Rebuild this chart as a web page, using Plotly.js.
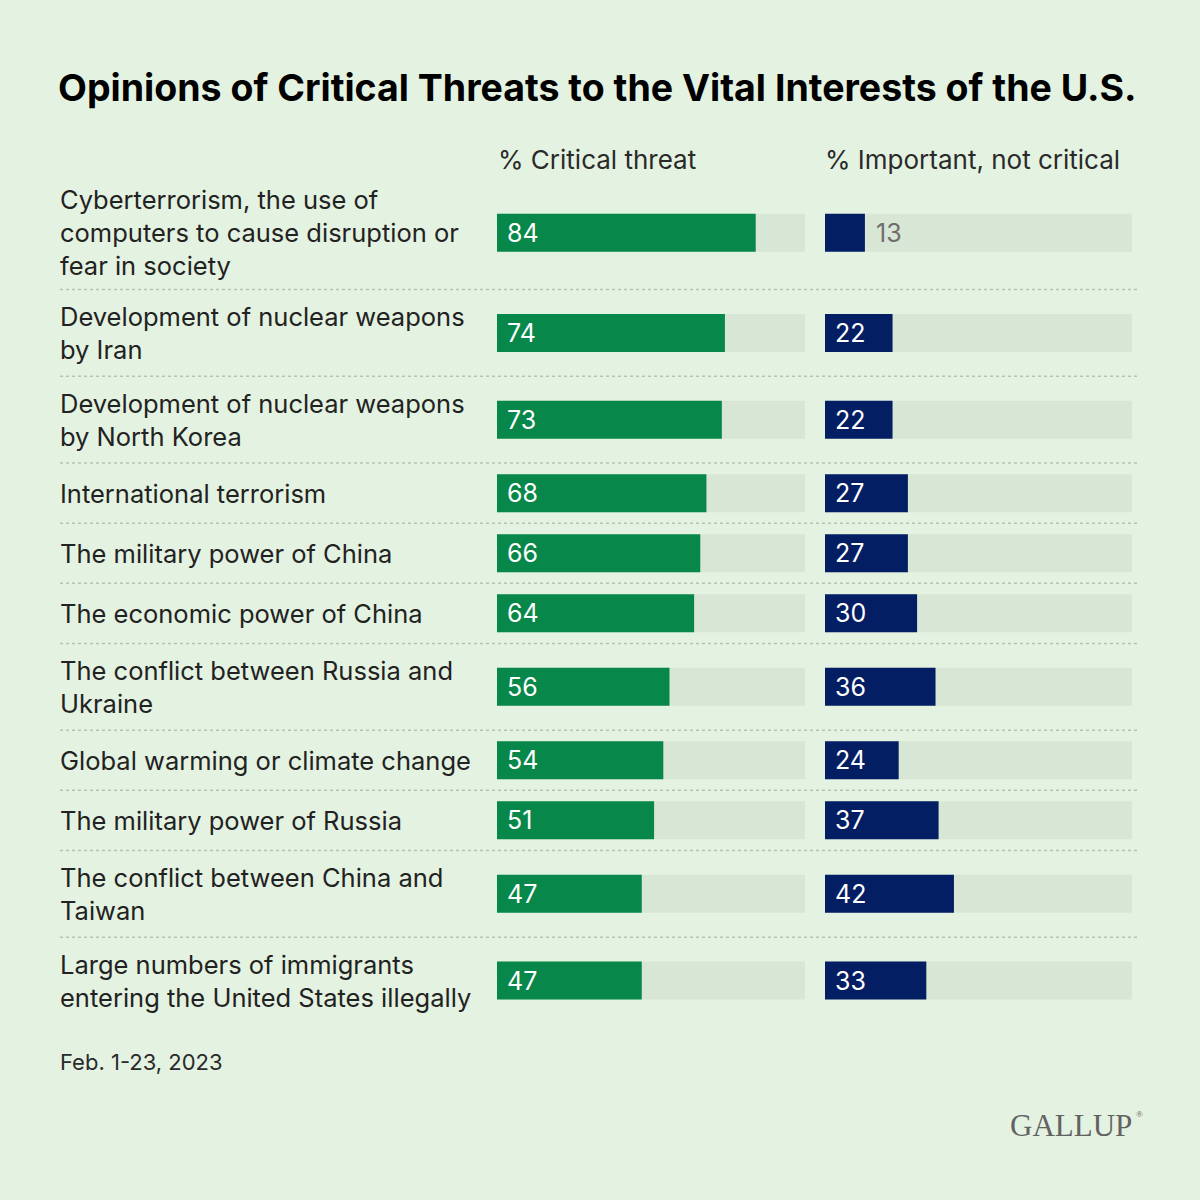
<!DOCTYPE html>
<html>
<head>
<meta charset="utf-8">
<script src="https://cdn.plot.ly/plotly-3.0.1.min.js"></script>
<style>html,body{margin:0;padding:0;background:#e4f2e1;}</style>
</head>
<body>
<div id="chart" style="width:1200px;height:1200px;"></div>
<script>
// ---- DATA ----
const categories = [
  "Cyberterrorism, the use of<br>computers to cause disruption or<br>fear in society",
  "Development of nuclear weapons<br>by Iran",
  "Development of nuclear weapons<br>by North Korea",
  "International terrorism",
  "The military power of China",
  "The economic power of China",
  "The conflict between Russia and<br>Ukraine",
  "Global warming or climate change",
  "The military power of Russia",
  "The conflict between China and<br>Taiwan",
  "Large numbers of immigrants<br>entering the United States illegally"
];
const criticalThreat = [84, 74, 73, 68, 66, 64, 56, 54, 51, 47, 47];
const importantNotCritical = [13, 22, 22, 27, 27, 30, 36, 24, 37, 42, 33];
const seriesNames = ["% Critical threat", "% Important, not critical"];
const titleText = "Opinions of Critical Threats to the Vital Interests of the U.S.";
const dateNote = "Feb. 1-23, 2023";
const sourceText = "GALLUP";

// ---- LAYOUT HELPERS ----
const BG = "#e4f2e1", TRACK = "#d8e6d5", GREEN = "#07874a", NAVY = "#031e63";
const FONT = "Inter, 'Open Sans', sans-serif";
const W = 1200, H = 1200;
const px = v => v / W;            // x pixel -> paper
const py = v => 1 - v / H;        // y pixel -> paper
const ROW_PAD = 1.25;             // extra row height in line units

const lines = categories.map(c => c.split("<br>").length);
const rowH = lines.map(n => n + ROW_PAD);
const bounds = [0];
rowH.forEach(h => bounds.push(bounds[bounds.length - 1] + h));
const centers = rowH.map((h, i) => bounds[i] + h / 2);
const total = bounds[bounds.length - 1];
const TOP = 176, BOTTOM = 1024;
const unitPx = (BOTTOM - TOP) / total;
const barW = 38 / unitPx;
const full = categories.map(() => 100);

const traces = [
  {type: "bar", orientation: "h", x: full, y: centers, xaxis: "x", yaxis: "y",
   width: barW, marker: {color: TRACK}, hoverinfo: "skip"},
  {type: "bar", orientation: "h", x: criticalThreat, y: centers, xaxis: "x", yaxis: "y",
   width: barW, marker: {color: GREEN}, name: seriesNames[0]},
  {type: "bar", orientation: "h", x: full, y: centers, xaxis: "x2", yaxis: "y",
   width: barW, marker: {color: TRACK}, hoverinfo: "skip"},
  {type: "bar", orientation: "h", x: importantNotCritical, y: centers, xaxis: "x2", yaxis: "y",
   width: barW, marker: {color: NAVY}, name: seriesNames[1]}
];

const annotations = [];
// row labels
categories.forEach((c, i) => {
  annotations.push({text: c, xref: "paper", yref: "y", x: px(58), y: centers[i],
    xanchor: "left", yanchor: "middle", align: "left", showarrow: false,
    font: {family: FONT, size: 25.5, color: "#222222"}});
});
// value labels
function addValues(vals, xref) {
  vals.forEach((v, i) => {
    const inside = v >= 15;
    annotations.push({text: String(v), xref: xref, yref: "y",
      x: inside ? 0 : v, y: centers[i], xshift: inside ? 8 : 9,
      xanchor: "left", yanchor: "middle", showarrow: false,
      font: {family: FONT, size: 25, color: inside ? "#ffffff" : "#6e6e6e"}});
  });
}
addValues(criticalThreat, "x");
addValues(importantNotCritical, "x2");
// column headers
annotations.push({text: seriesNames[0], xref: "paper", yref: "paper", x: px(496), y: py(160),
  xanchor: "left", yanchor: "middle", showarrow: false, font: {family: FONT, size: 26, color: "#2a2a2a"}});
annotations.push({text: seriesNames[1], xref: "paper", yref: "paper", x: px(823), y: py(160),
  xanchor: "left", yanchor: "middle", showarrow: false, font: {family: FONT, size: 26, color: "#2a2a2a"}});
// date note
annotations.push({text: dateNote, xref: "paper", yref: "paper", x: px(58), y: py(1062),
  xanchor: "left", yanchor: "middle", showarrow: false, font: {family: FONT, size: 22, color: "#2a2a2a"}});
// source logo
annotations.push({text: sourceText, xref: "paper", yref: "paper", x: px(1134), y: py(1125),
  xanchor: "right", yanchor: "middle", showarrow: false,
  font: {family: "'Liberation Serif', 'DejaVu Serif', serif", size: 31, color: "#626262"}});
annotations.push({text: "®", xref: "paper", yref: "paper", x: px(1134), y: py(1114),
  xanchor: "left", yanchor: "middle", showarrow: false,
  font: {family: "'Liberation Serif', 'DejaVu Serif', serif", size: 9, color: "#626262"}});

// dotted separators between rows
const shapes = bounds.slice(1, -1).map(b => ({type: "line", xref: "paper", yref: "y",
  x0: px(60), x1: px(1140), y0: b, y1: b,
  line: {color: "#b7c2b4", width: 1.5, dash: "dot"}}));

const layout = {
  width: W, height: H,
  paper_bgcolor: BG, plot_bgcolor: "rgba(0,0,0,0)",
  margin: {l: 0, r: 0, t: 0, b: 0},
  showlegend: false, barmode: "overlay",
  title: {text: "<b>" + titleText + "</b>", x: px(58), xanchor: "left", xref: "paper",
    y: py(88), yanchor: "middle", yref: "paper",
    font: {family: FONT, size: 37.5, color: "#000000"}},
  xaxis: {domain: [px(497), px(805)], range: [0, 100], visible: false, fixedrange: true},
  xaxis2: {domain: [px(825), px(1132)], range: [0, 100], visible: false, anchor: "y", fixedrange: true},
  yaxis: {domain: [py(BOTTOM), py(TOP)], range: [total, 0], visible: false, fixedrange: true},
  annotations: annotations,
  shapes: shapes,
  font: {family: FONT}
};

Plotly.newPlot("chart", traces, layout, {displayModeBar: false, staticPlot: true});
</script>
</body>
</html>
